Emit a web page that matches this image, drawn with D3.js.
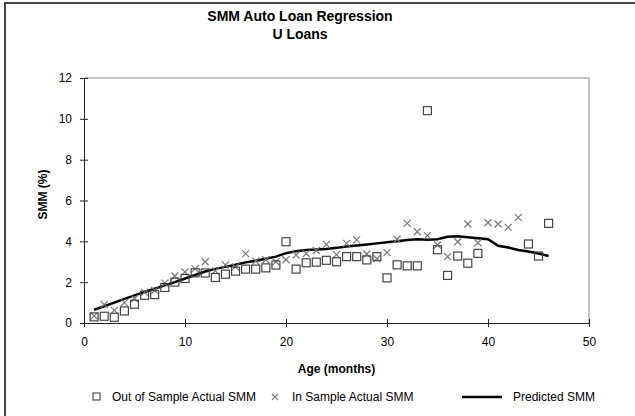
<!DOCTYPE html>
<html>
<head>
<meta charset="utf-8">
<script src="https://cdn.jsdelivr.net/npm/d3@7"></script>
<style>
  body { margin: 0; background: #fff; }
  text { font-family: 'Liberation Sans', Arial, sans-serif; fill: #000; }
</style>
</head>
<body>
<div id="chart"></div>
<script>
// months with out-of-sample observations
const outMonths = [1, 2, 3, 4, 5, 6, 7, 8, 9, 10, 11, 12, 13, 14, 15, 16, 17, 18, 19, 20,
  21, 22, 23, 24, 25, 26, 27, 28, 29, 30, 31, 32, 33, 34, 35, 36, 37, 38, 39, 44, 45, 46]
const outSMM = [0.3, 0.33, 0.28, 0.59, 0.92, 1.36, 1.39, 1.74, 2.0, 2.18, 2.46, 2.45, 2.23, 2.39,
  2.54, 2.64, 2.64, 2.7, 2.84, 3.98, 2.64, 2.95, 2.98, 3.07, 3.0, 3.25, 3.25, 3.09, 3.25, 2.21,
  2.85, 2.8, 2.8, 10.4, 3.59, 2.33, 3.28, 2.93, 3.41, 3.87, 3.28, 4.88]

// in-sample observations, months 1..43
const inMonths = d3.range(1, 44)
const inSMM = [0.35, 0.9, 0.62, 1.0, 1.2, 1.5, 1.6, 1.95, 2.3, 2.5, 2.65, 3.0, 2.55, 2.85, 2.75,
  3.4, 3.03, 3.1, 3.0, 3.1, 3.33, 3.4, 3.55, 3.85, 3.35, 3.9, 4.07, 3.38, 3.15, 3.45, 4.1, 4.88,
  4.47, 4.28, 3.82, 3.25, 3.98, 4.85, 3.93, 4.91, 4.85, 4.68, 5.17]

// predicted SMM, months 1..46
const predMonths = d3.range(1, 47)
const predSMM = [0.65, 0.82, 1.0, 1.18, 1.35, 1.52, 1.68, 1.85, 2.0, 2.18, 2.35, 2.52, 2.65, 2.75,
  2.85, 2.97, 3.05, 3.15, 3.25, 3.42, 3.52, 3.57, 3.6, 3.63, 3.68, 3.75, 3.8, 3.85, 3.9, 3.95, 4.0,
  4.07, 4.1, 4.08, 4.1, 4.22, 4.25, 4.2, 4.15, 4.1, 3.78, 3.7, 3.58, 3.5, 3.4, 3.28]

const xTicks = [0, 10, 20, 30, 40, 50]
const yTicks = [0, 2, 4, 6, 8, 10, 12]

const W = 635
const H = 416
const plot = { left: 84, right: 589, top: 78, bottom: 323 }
const font = "'Liberation Sans', Arial, sans-serif"

const svg = d3.select('#chart').append('svg')
  .attr('width', W)
  .attr('height', H)

// outer chart frame (cropped on the right/bottom)
svg.append('rect')
  .attr('x', 5).attr('y', 3)
  .attr('width', 700).attr('height', 500)
  .attr('fill', 'none')
  .attr('stroke', '#444')
  .attr('stroke-width', 2)

const x = d3.scaleLinear().domain([0, 50]).range([plot.left, plot.right])
const y = d3.scaleLinear().domain([0, 12]).range([plot.bottom, plot.top])

// plot area border (top + right)
svg.append('path')
  .attr('d', `M${plot.left},${plot.top}H${plot.right}V${plot.bottom}`)
  .attr('fill', 'none')
  .attr('stroke', '#b0b0b0')
  .attr('stroke-width', 1.5)

// axes
const xAxis = d3.axisBottom(x).tickValues(xTicks).tickSizeInner(4).tickSizeOuter(0).tickPadding(10)
const gx = svg.append('g')
  .attr('transform', `translate(0,${plot.bottom})`)
  .call(xAxis)
gx.selectAll('.tick line').attr('y1', -4).attr('stroke', '#222')
gx.select('.domain').attr('stroke', '#222')
gx.selectAll('text').attr('font-size', 12).attr('font-family', font)

const yAxis = d3.axisLeft(y).tickValues(yTicks).tickSizeInner(4).tickSizeOuter(0).tickPadding(8)
const gy = svg.append('g')
  .attr('transform', `translate(${plot.left},0)`)
  .call(yAxis)
gy.selectAll('.tick line').attr('x1', 4).attr('stroke', '#222')
gy.select('.domain').attr('stroke', '#222')
gy.selectAll('text').attr('font-size', 12).attr('font-family', font)

// predicted line
const line = d3.line().x(d => x(d[0])).y(d => y(d[1]))
svg.append('path')
  .datum(d3.zip(predMonths, predSMM))
  .attr('d', line)
  .attr('fill', 'none')
  .attr('stroke', '#000')
  .attr('stroke-width', 2.5)

// in-sample crosses
const cross = 3.5
svg.append('g').selectAll('path')
  .data(d3.zip(inMonths, inSMM))
  .enter()
  .append('path')
  .attr('d', d => {
    const cx = x(d[0])
    const cy = y(d[1])
    return `M${cx - cross},${cy - cross}L${cx + cross},${cy + cross}M${cx - cross},${cy + cross}L${cx + cross},${cy - cross}`
  })
  .attr('stroke', '#777')
  .attr('stroke-width', 1.2)

// out-of-sample squares
svg.append('g').selectAll('rect')
  .data(d3.zip(outMonths, outSMM))
  .enter()
  .append('rect')
  .attr('x', d => x(d[0]) - 4)
  .attr('y', d => y(d[1]) - 4)
  .attr('width', 8)
  .attr('height', 8)
  .attr('fill', 'none')
  .attr('stroke', '#444')
  .attr('stroke-width', 1.2)

// titles
svg.append('text')
  .attr('x', 300).attr('y', 21)
  .attr('text-anchor', 'middle')
  .attr('font-size', 14).attr('font-weight', 'bold')
  .text('SMM Auto Loan Regression')
svg.append('text')
  .attr('x', 300).attr('y', 39)
  .attr('text-anchor', 'middle')
  .attr('font-size', 14).attr('font-weight', 'bold')
  .text('U Loans')

svg.append('text')
  .attr('transform', `translate(47,${(plot.top + plot.bottom) / 2 - 6}) rotate(-90)`)
  .attr('text-anchor', 'middle')
  .attr('font-size', 12).attr('font-weight', 'bold')
  .text('SMM (%)')

svg.append('text')
  .attr('x', (plot.left + plot.right) / 2).attr('y', 373)
  .attr('text-anchor', 'middle')
  .attr('font-size', 12).attr('font-weight', 'bold')
  .text('Age (months)')

// legend
const ly = 397
const legend = svg.append('g')
legend.append('rect')
  .attr('x', 93).attr('y', ly - 4).attr('width', 7).attr('height', 7)
  .attr('fill', 'none').attr('stroke', '#444').attr('stroke-width', 1.1)
legend.append('text').attr('x', 112).attr('y', ly + 4).attr('font-size', 12)
  .text('Out of Sample Actual SMM')
legend.append('path')
  .attr('d', `M${275 - 3},${ly - 3}L${275 + 3},${ly + 3}M${275 - 3},${ly + 3}L${275 + 3},${ly - 3}`)
  .attr('stroke', '#777').attr('stroke-width', 1.1)
legend.append('text').attr('x', 292).attr('y', ly + 4).attr('font-size', 12)
  .text('In Sample Actual SMM')
legend.append('line')
  .attr('x1', 462).attr('x2', 502).attr('y1', ly).attr('y2', ly)
  .attr('stroke', '#000').attr('stroke-width', 2.5)
legend.append('text').attr('x', 513).attr('y', ly + 4).attr('font-size', 12)
  .text('Predicted SMM')
</script>
</body>
</html>
